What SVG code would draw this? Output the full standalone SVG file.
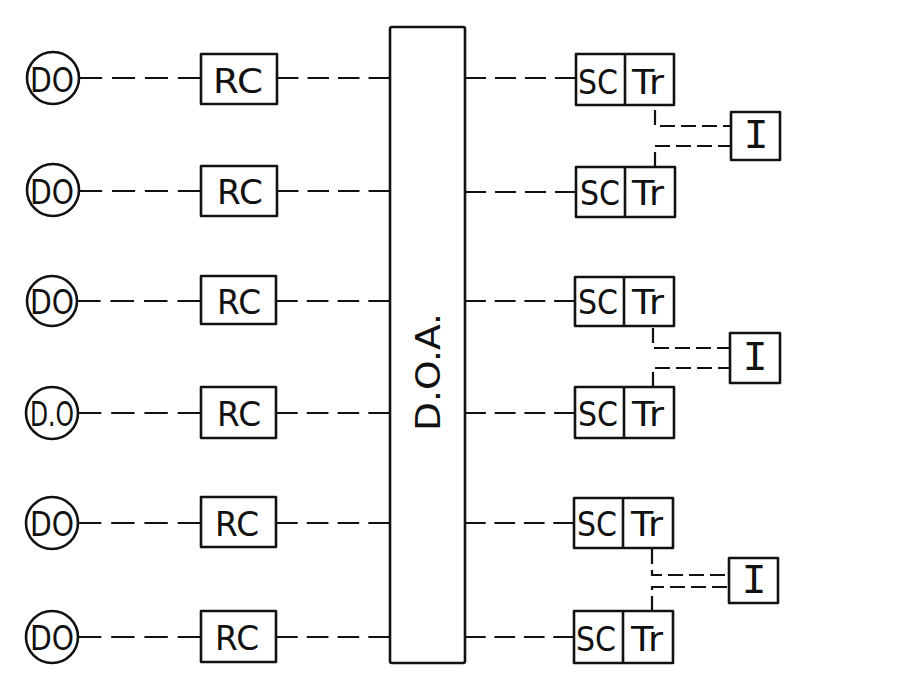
<svg xmlns="http://www.w3.org/2000/svg" width="898" height="696" viewBox="0 0 898 696">
<style>
.box{fill:none;stroke:#111;stroke-width:2.6;stroke-linejoin:round}
.ln{fill:none;stroke:#111;stroke-width:2.2}
.d{stroke-dasharray:19 8}
.d2{stroke-dasharray:15 6}
.t{font-family:"DejaVu Sans","Liberation Sans",sans-serif;font-size:33px;fill:#111;text-anchor:middle}
.ti{font-family:"Liberation Mono",monospace;font-size:42px;fill:#111;text-anchor:middle}
</style>
<rect width="898" height="696" fill="#fff"/>
<g id="connectors">
<!-- DO to RC -->
<line class="ln d" pathLength="100" x1="79" y1="78" x2="201" y2="78"/>
<line class="ln d" pathLength="100" x1="79" y1="191" x2="201" y2="191"/>
<line class="ln d" pathLength="100" x1="77" y1="301" x2="201" y2="301"/>
<line class="ln d" pathLength="100" x1="78" y1="413" x2="201" y2="413"/>
<line class="ln d" pathLength="100" x1="78" y1="523" x2="201" y2="523"/>
<line class="ln d" pathLength="100" x1="78" y1="637" x2="201" y2="637"/>
<!-- RC to DOA -->
<line class="ln d" pathLength="100" x1="277" y1="78" x2="390" y2="78"/>
<line class="ln d" pathLength="100" x1="277" y1="191" x2="390" y2="191"/>
<line class="ln d" pathLength="100" x1="276" y1="301" x2="390" y2="301"/>
<line class="ln d" pathLength="100" x1="276" y1="413" x2="390" y2="413"/>
<line class="ln d" pathLength="100" x1="276" y1="523" x2="390" y2="523"/>
<line class="ln d" pathLength="100" x1="276" y1="637" x2="390" y2="637"/>
<!-- DOA to SC -->
<line class="ln d" pathLength="100" x1="465" y1="78" x2="576" y2="78"/>
<line class="ln d" pathLength="100" x1="465" y1="192" x2="576" y2="192"/>
<line class="ln d" pathLength="100" x1="465" y1="301" x2="575" y2="301"/>
<line class="ln d" pathLength="100" x1="465" y1="413" x2="575" y2="413"/>
<line class="ln d" pathLength="100" x1="465" y1="523" x2="574" y2="523"/>
<line class="ln d" pathLength="100" x1="465" y1="637" x2="574" y2="637"/>
<!-- Tr to I -->
<path class="ln d2" d="M655,110 V126 H731"/>
<path class="ln d2" d="M655,167 V146 H731"/>
<path class="ln d2" d="M653,328 V348 H730"/>
<path class="ln d2" d="M653,387 V368 H730"/>
<path class="ln d2" d="M652,549 V575 H729"/>
<path class="ln d2" d="M652,611 V587 H729"/>
</g>
<g id="doa">
<rect class="box" x="390" y="27" width="75" height="636" rx="2"/>
<text class="t" transform="translate(440,372) rotate(-90)" textLength="118" lengthAdjust="spacingAndGlyphs">D.O.A.</text>
</g>
<g id="do1"><circle class="box" cx="53" cy="78" r="26"/><text class="t" x="52" y="92" textLength="44" lengthAdjust="spacingAndGlyphs">DO</text></g>
<g id="do2"><circle class="box" cx="53" cy="190" r="26"/><text class="t" x="52" y="204" textLength="44" lengthAdjust="spacingAndGlyphs">DO</text></g>
<g id="do3"><circle class="box" cx="52" cy="301" r="25"/><text class="t" x="52" y="314" textLength="44" lengthAdjust="spacingAndGlyphs">DO</text></g>
<g id="do4"><circle class="box" cx="52" cy="413" r="26"/><text class="t" x="52" y="426" textLength="44" lengthAdjust="spacingAndGlyphs">D.O</text></g>
<g id="do5"><circle class="box" cx="52" cy="523" r="26"/><text class="t" x="52" y="536" textLength="44" lengthAdjust="spacingAndGlyphs">DO</text></g>
<g id="do6"><circle class="box" cx="52" cy="637" r="26"/><text class="t" x="52" y="650" textLength="44" lengthAdjust="spacingAndGlyphs">DO</text></g>
<g id="rc1"><rect class="box" x="201" y="54" width="76" height="50"/><text class="t" x="238" y="93" textLength="50" lengthAdjust="spacingAndGlyphs">RC</text></g>
<g id="rc2"><rect class="box" x="201" y="166" width="76" height="50"/><text class="t" x="240" y="204" textLength="46" lengthAdjust="spacingAndGlyphs">RC</text></g>
<g id="rc3"><rect class="box" x="201" y="276" width="75" height="48"/><text class="t" x="239" y="314" textLength="44" lengthAdjust="spacingAndGlyphs">RC</text></g>
<g id="rc4"><rect class="box" x="201" y="387" width="75" height="51"/><text class="t" x="239" y="426" textLength="44" lengthAdjust="spacingAndGlyphs">RC</text></g>
<g id="rc5"><rect class="box" x="201" y="497" width="75" height="50"/><text class="t" x="237" y="536" textLength="44" lengthAdjust="spacingAndGlyphs">RC</text></g>
<g id="rc6"><rect class="box" x="201" y="611" width="75" height="51"/><text class="t" x="237" y="650" textLength="44" lengthAdjust="spacingAndGlyphs">RC</text></g>
<g id="sctr1"><rect class="box" x="576" y="54" width="98" height="51"/><line class="box" x1="625" y1="54" x2="625" y2="105"/><text class="t" x="598" y="94" textLength="40" lengthAdjust="spacingAndGlyphs">SC</text><text class="t" x="648" y="94" textLength="32" lengthAdjust="spacingAndGlyphs">Tr</text></g>
<g id="sctr2"><rect class="box" x="576" y="167" width="99" height="50"/><line class="box" x1="625" y1="167" x2="625" y2="217"/><text class="t" x="600" y="205" textLength="40" lengthAdjust="spacingAndGlyphs">SC</text><text class="t" x="648" y="205" textLength="32" lengthAdjust="spacingAndGlyphs">Tr</text></g>
<g id="sctr3"><rect class="box" x="575" y="277" width="99" height="49"/><line class="box" x1="624" y1="277" x2="624" y2="326"/><text class="t" x="598" y="314" textLength="40" lengthAdjust="spacingAndGlyphs">SC</text><text class="t" x="648" y="314" textLength="32" lengthAdjust="spacingAndGlyphs">Tr</text></g>
<g id="sctr4"><rect class="box" x="575" y="387" width="99" height="51"/><line class="box" x1="624" y1="387" x2="624" y2="438"/><text class="t" x="598" y="426" textLength="40" lengthAdjust="spacingAndGlyphs">SC</text><text class="t" x="648" y="426" textLength="32" lengthAdjust="spacingAndGlyphs">Tr</text></g>
<g id="sctr5"><rect class="box" x="574" y="498" width="99" height="50"/><line class="box" x1="623" y1="498" x2="623" y2="548"/><text class="t" x="597" y="536" textLength="40" lengthAdjust="spacingAndGlyphs">SC</text><text class="t" x="647" y="536" textLength="32" lengthAdjust="spacingAndGlyphs">Tr</text></g>
<g id="sctr6"><rect class="box" x="574" y="611" width="99" height="52"/><line class="box" x1="623" y1="611" x2="623" y2="663"/><text class="t" x="596" y="651" textLength="40" lengthAdjust="spacingAndGlyphs">SC</text><text class="t" x="647" y="651" textLength="32" lengthAdjust="spacingAndGlyphs">Tr</text></g>
<g id="i1"><rect class="box" x="731" y="112" width="49" height="48"/><text class="ti" x="756" y="148">I</text></g>
<g id="i2"><rect class="box" x="730" y="333" width="50" height="50"/><text class="ti" x="755" y="370">I</text></g>
<g id="i3"><rect class="box" x="729" y="558" width="49" height="45"/><text class="ti" x="754" y="593">I</text></g>
</svg>
